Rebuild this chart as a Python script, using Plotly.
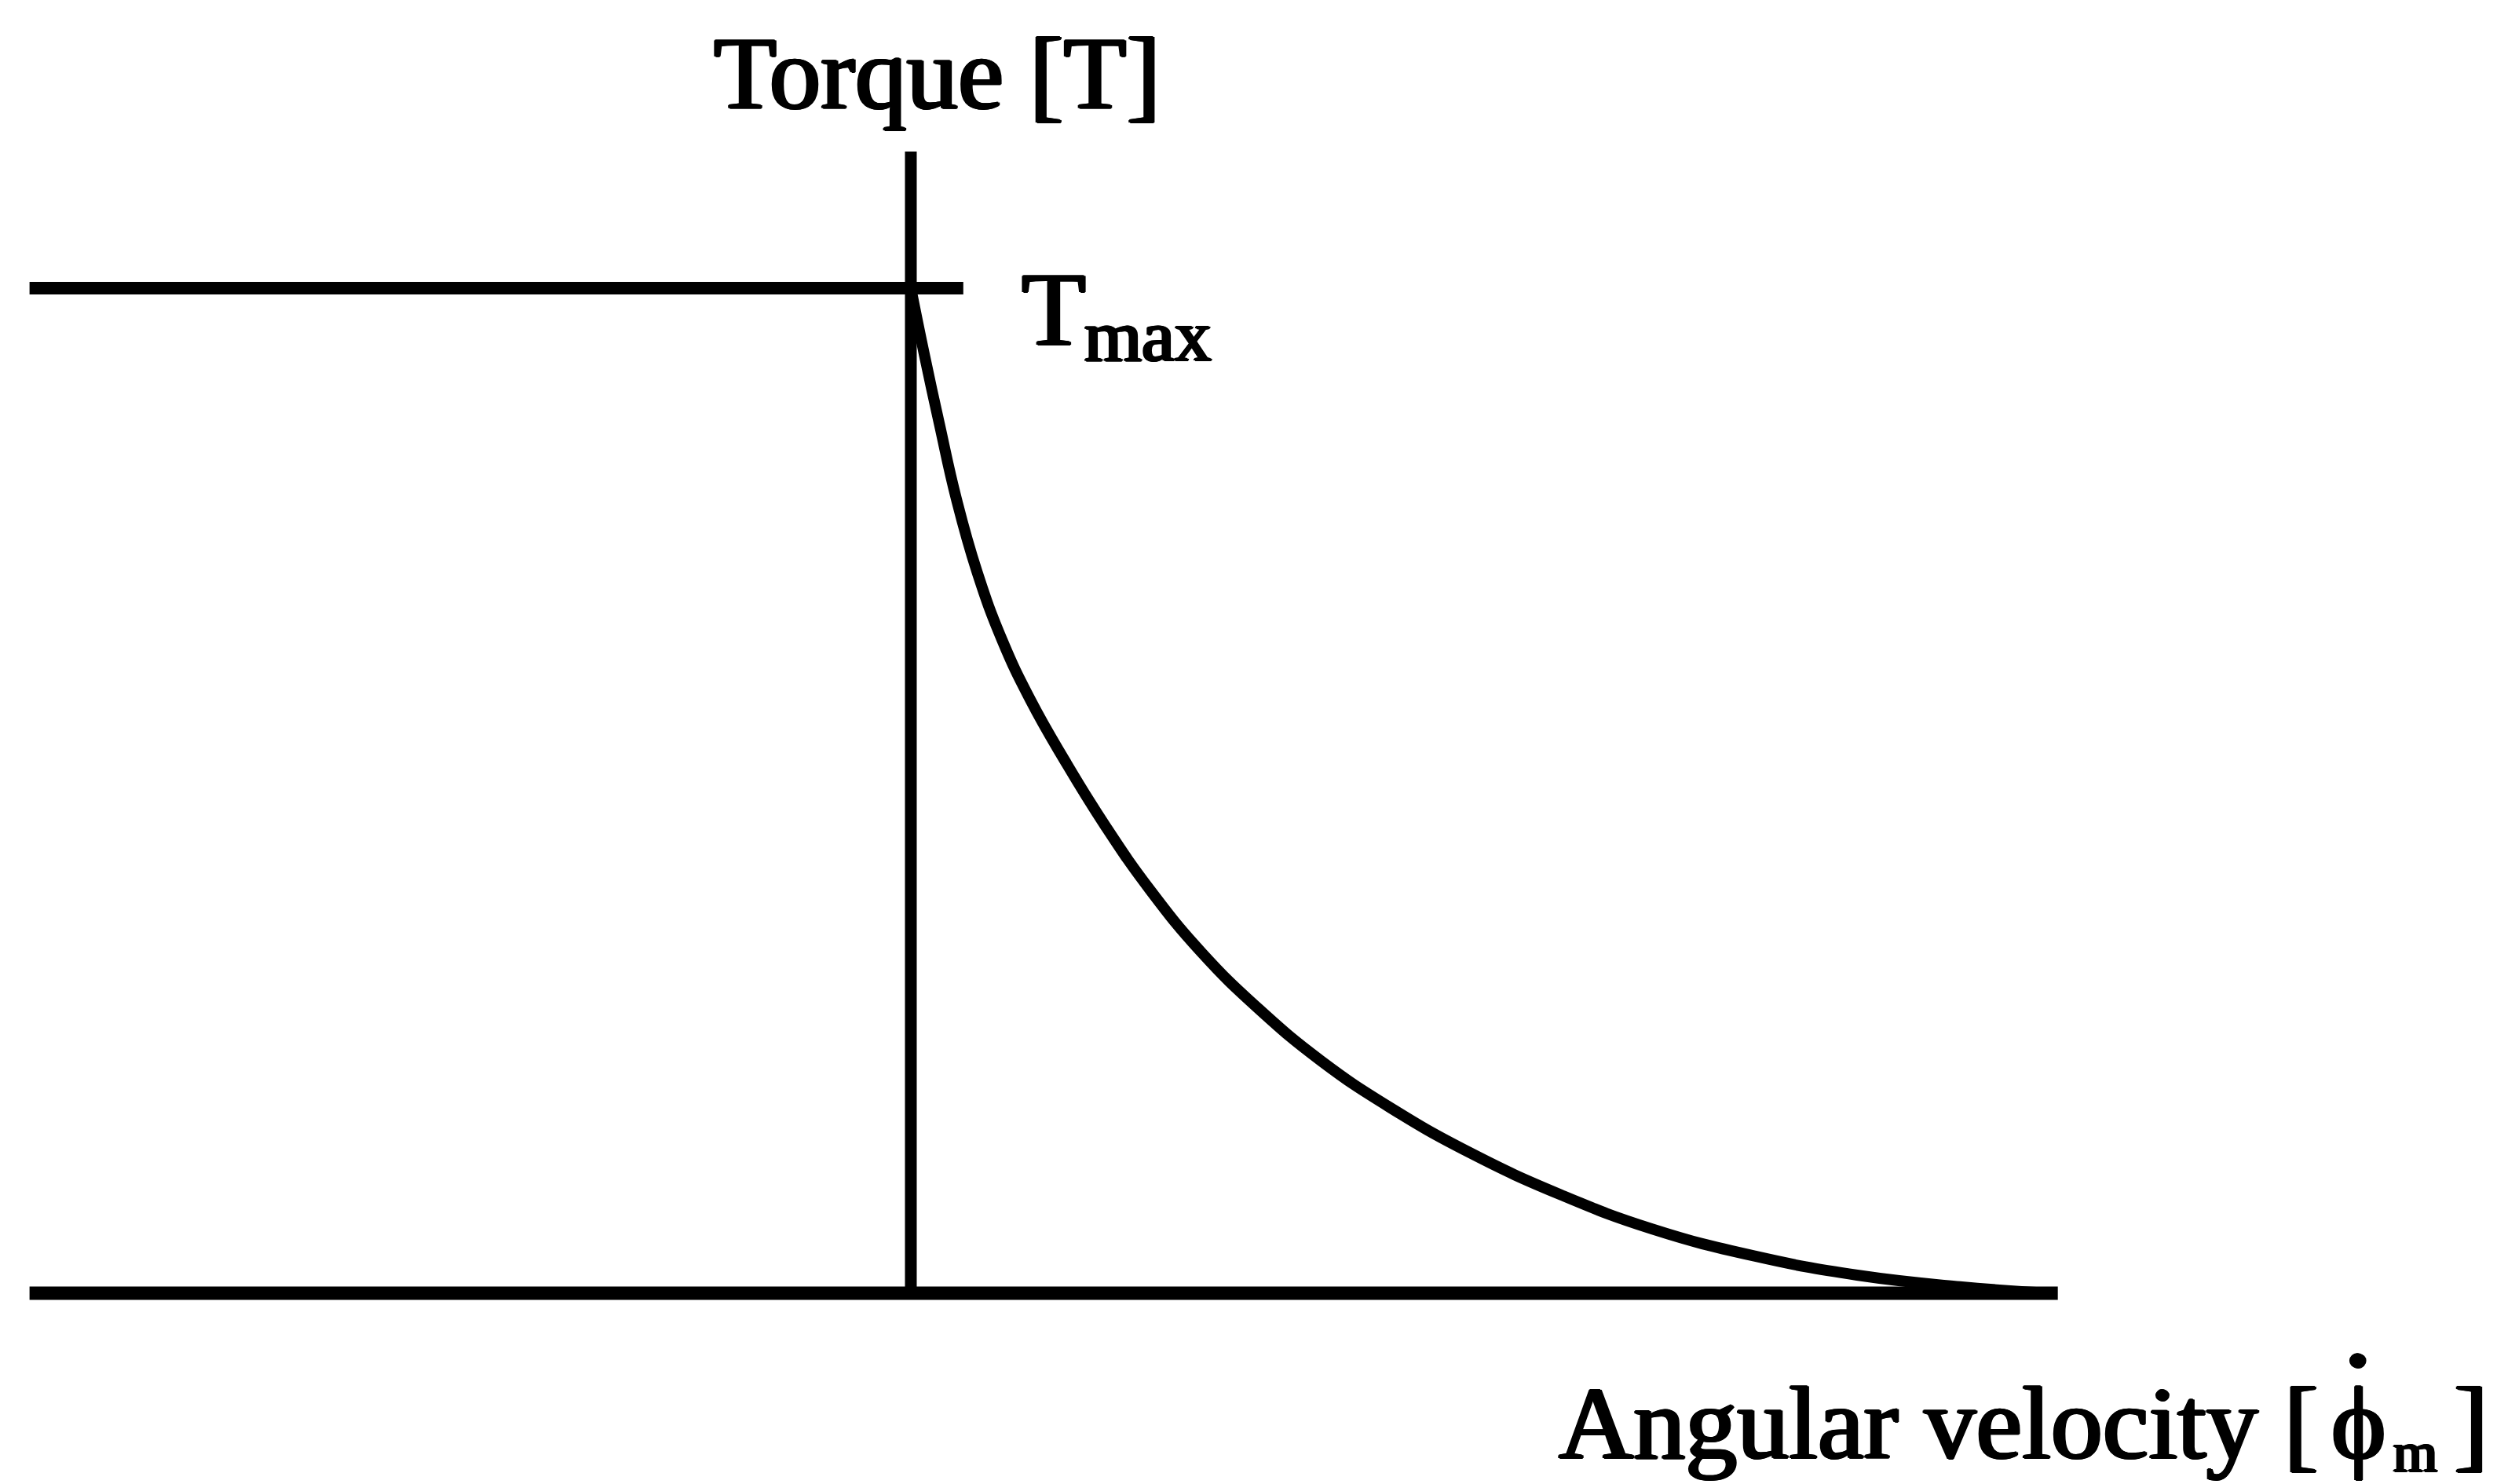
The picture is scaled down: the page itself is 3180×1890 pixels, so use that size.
import plotly.graph_objects as go

# ---- data (normalised units: omega / omega_end, T / T_max) ----
omega_curve = [0.0, 0.012, 0.025, 0.040, 0.058, 0.080, 0.105, 0.135, 0.170, 0.210,
               0.255, 0.305, 0.360, 0.420, 0.490, 0.570, 0.650, 0.740, 0.830,
               0.920, 1.0]
torque_curve = [1.0, 0.933, 0.865, 0.790, 0.718, 0.650, 0.590, 0.530, 0.466, 0.401,
                0.339, 0.283, 0.231, 0.185, 0.140, 0.098, 0.064, 0.037, 0.018,
                0.0065, 0.0]
tmax_line_omega = [-0.773, 0.046]
tmax_line_torque = [1.0, 1.0]
zero_line_omega = [-0.773, 1.006]
zero_line_torque = [0.0, 0.0]
torque_axis_omega = [0.0, 0.0]
torque_axis_torque = [0.0, 1.136]

label_torque = "Torque [T]"
label_tmax_main = "T"
label_tmax_sub = "max"
label_omega_main = "Angular velocity ["
label_omega_symbol = "\u03d5"
label_omega_dot = "."
label_omega_sub = "m"
label_omega_close = "]"

W, H = 3180, 1890
FONT = "Liberation Serif, Times New Roman, serif"
BLACK = "#000000"
SHADOW = ("1px 0 0 #000, -1px 0 0 #000, 2px 0 0 #000, -2px 0 0 #000, "
          "0 1px 0 #000, 0 -1px 0 #000, 1px 1px 0 #000, -1px -1px 0 #000")
BASE_OFF = 0.91  # baseline distance below annotation top, in em


def px(xp):
    return xp / W


def py_top(baseline, size):
    return 1 - (baseline - BASE_OFF * size) / H


fig = go.Figure()
fig.add_trace(go.Scatter(x=tmax_line_omega, y=tmax_line_torque, mode="lines",
                         line=dict(color=BLACK, width=16), hoverinfo="skip"))
fig.add_trace(go.Scatter(x=zero_line_omega, y=zero_line_torque, mode="lines",
                         line=dict(color=BLACK, width=17), hoverinfo="skip"))
fig.add_trace(go.Scatter(x=torque_axis_omega, y=torque_axis_torque, mode="lines",
                         line=dict(color=BLACK, width=15), hoverinfo="skip"))
fig.add_trace(go.Scatter(x=omega_curve, y=torque_curve, mode="lines",
                         line=dict(color=BLACK, width=14, shape="spline", smoothing=1.3),
                         hoverinfo="skip"))


def ann(text, x, baseline, size, xanchor):
    fig.add_annotation(text=text, xref="paper", yref="paper", x=px(x),
                       y=py_top(baseline, size), xanchor=xanchor, yanchor="top",
                       showarrow=False, borderpad=0,
                       font=dict(family=FONT, size=size, color=BLACK, shadow=SHADOW))


ann(label_torque, 1193, 139, 131, "center")
ann(label_tmax_main, 1300, 441, 134, "left")
ann(label_tmax_sub, 1380, 460, 94, "left")
ann(label_omega_main, 2954, 1858, 132, "right")
ann(label_omega_symbol, 3003, 1858, 132, "center")
ann(label_omega_dot, 3003, 1741, 150, "center")
ann(label_omega_sub, 3047, 1875, 72, "left")
ann(label_omega_close, 3124, 1858, 132, "left")

fig.update_layout(
    width=W, height=H,
    margin=dict(l=0, r=0, t=0, b=0),
    paper_bgcolor="white", plot_bgcolor="white",
    showlegend=False,
    xaxis=dict(range=[-0.7989, 1.3912], visible=False, fixedrange=True),
    yaxis=dict(range=[-0.1898, 1.2867], visible=False, fixedrange=True),
)

fig.write_html("out.html", config={"displayModeBar": False},
               post_script="document.body.style.margin='0';document.body.style.overflow='hidden';")
